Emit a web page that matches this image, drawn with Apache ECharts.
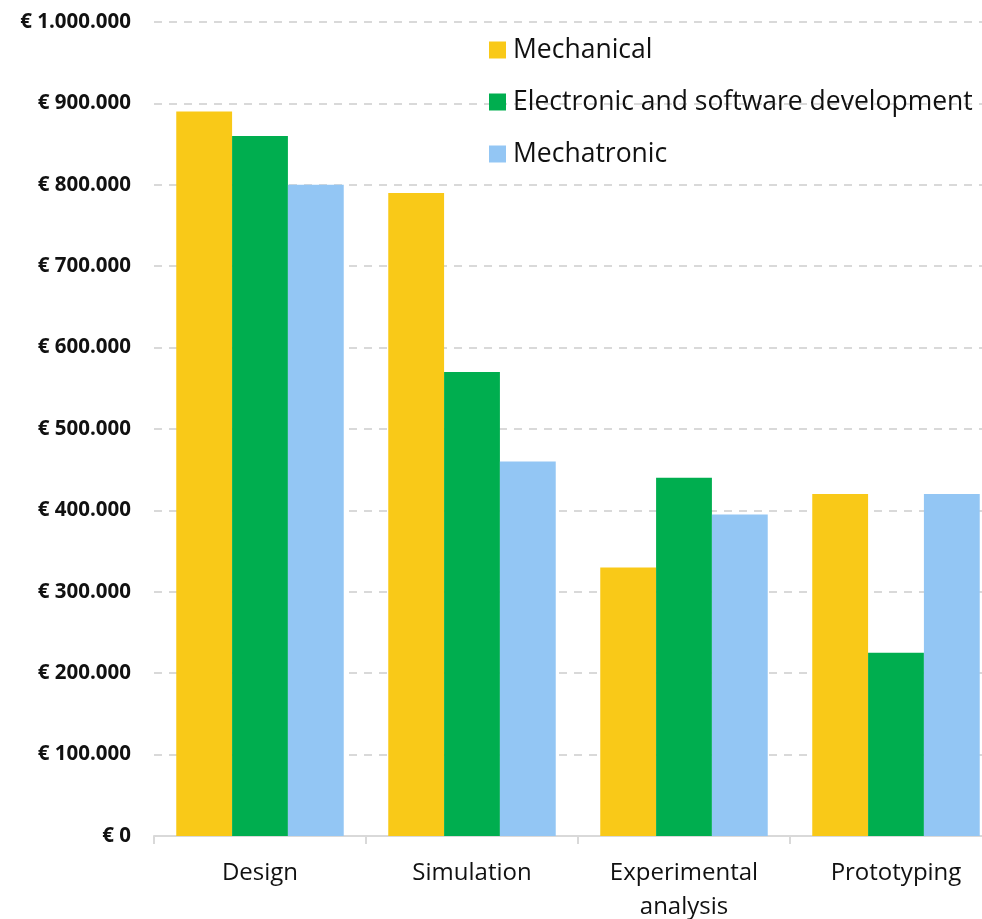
<!DOCTYPE html>
<html>
<head>
<meta charset="utf-8">
<script src="https://cdn.jsdelivr.net/npm/echarts@6/dist/echarts.min.js"></script>
<style>
  html, body { margin: 0; padding: 0; background: #fff; overflow: hidden; }
  #chart { width: 982px; height: 919px; }
</style>
</head>
<body>
<div id="chart"></div>
<script>
// Cost per development phase, by project type
const categories = ['Design', 'Simulation', 'Experimental\nanalysis', 'Prototyping'];
const mechanical = [890000, 790000, 330000, 420000];
const electronicSoftware = [860000, 570000, 440000, 225000];
const mechatronic = [800000, 460000, 395000, 420000];
const yTicks = { min: 0, max: 1000000, interval: 100000 };

function euro(v) {
  const s = Math.round(v).toString().replace(/\B(?=(\d{3})+(?!\d))/g, '.');
  return '€ ' + s;
}

const chart = echarts.init(document.getElementById('chart'), null, { renderer: 'canvas' });
const font = '"Open Sans", "Noto Sans", sans-serif';

chart.setOption({
  animation: false,
  textStyle: { fontFamily: font },
  // the last category runs past the right edge of the canvas
  grid: { left: 154, width: 848, top: 22, height: 814, containLabel: false, outerBoundsMode: 'none' },
  legend: {
    orient: 'vertical',
    left: 484,
    top: 28,
    itemWidth: 17,
    itemHeight: 17,
    itemGap: 18,
    icon: 'rect',
    textStyle: { fontFamily: font, fontSize: 26.5, color: '#111', lineHeight: 34, padding: [0, 0, 0, 2] },
    data: ['Mechanical', 'Electronic and software development', 'Mechatronic']
  },
  xAxis: {
    type: 'category',
    data: categories,
    axisLine: { lineStyle: { color: '#d9d9d9', width: 2 } },
    axisTick: { show: true, length: 8, lineStyle: { color: '#d9d9d9', width: 2 } },
    axisLabel: { fontFamily: font, fontSize: 24, color: '#111', margin: 20, lineHeight: 34 }
  },
  yAxis: {
    type: 'value',
    min: yTicks.min,
    max: yTicks.max,
    interval: yTicks.interval,
    axisLine: { show: false },
    axisTick: { show: false },
    axisLabel: { fontFamily: font, fontSize: 20.5, fontWeight: 'bold', color: '#111', margin: 23, formatter: euro },
    splitLine: { lineStyle: { color: '#d9d9d9', width: 2, type: [8, 7] } }
  },
  series: [
    { name: 'Mechanical', type: 'bar', data: mechanical, itemStyle: { color: '#F9C918' }, barGap: '0%', barCategoryGap: '21%' },
    { name: 'Electronic and software development', type: 'bar', data: electronicSoftware, itemStyle: { color: '#00AE4F' } },
    { name: 'Mechatronic', type: 'bar', data: mechatronic, itemStyle: { color: '#93C6F4' } }
  ]
});
</script>
</body>
</html>
